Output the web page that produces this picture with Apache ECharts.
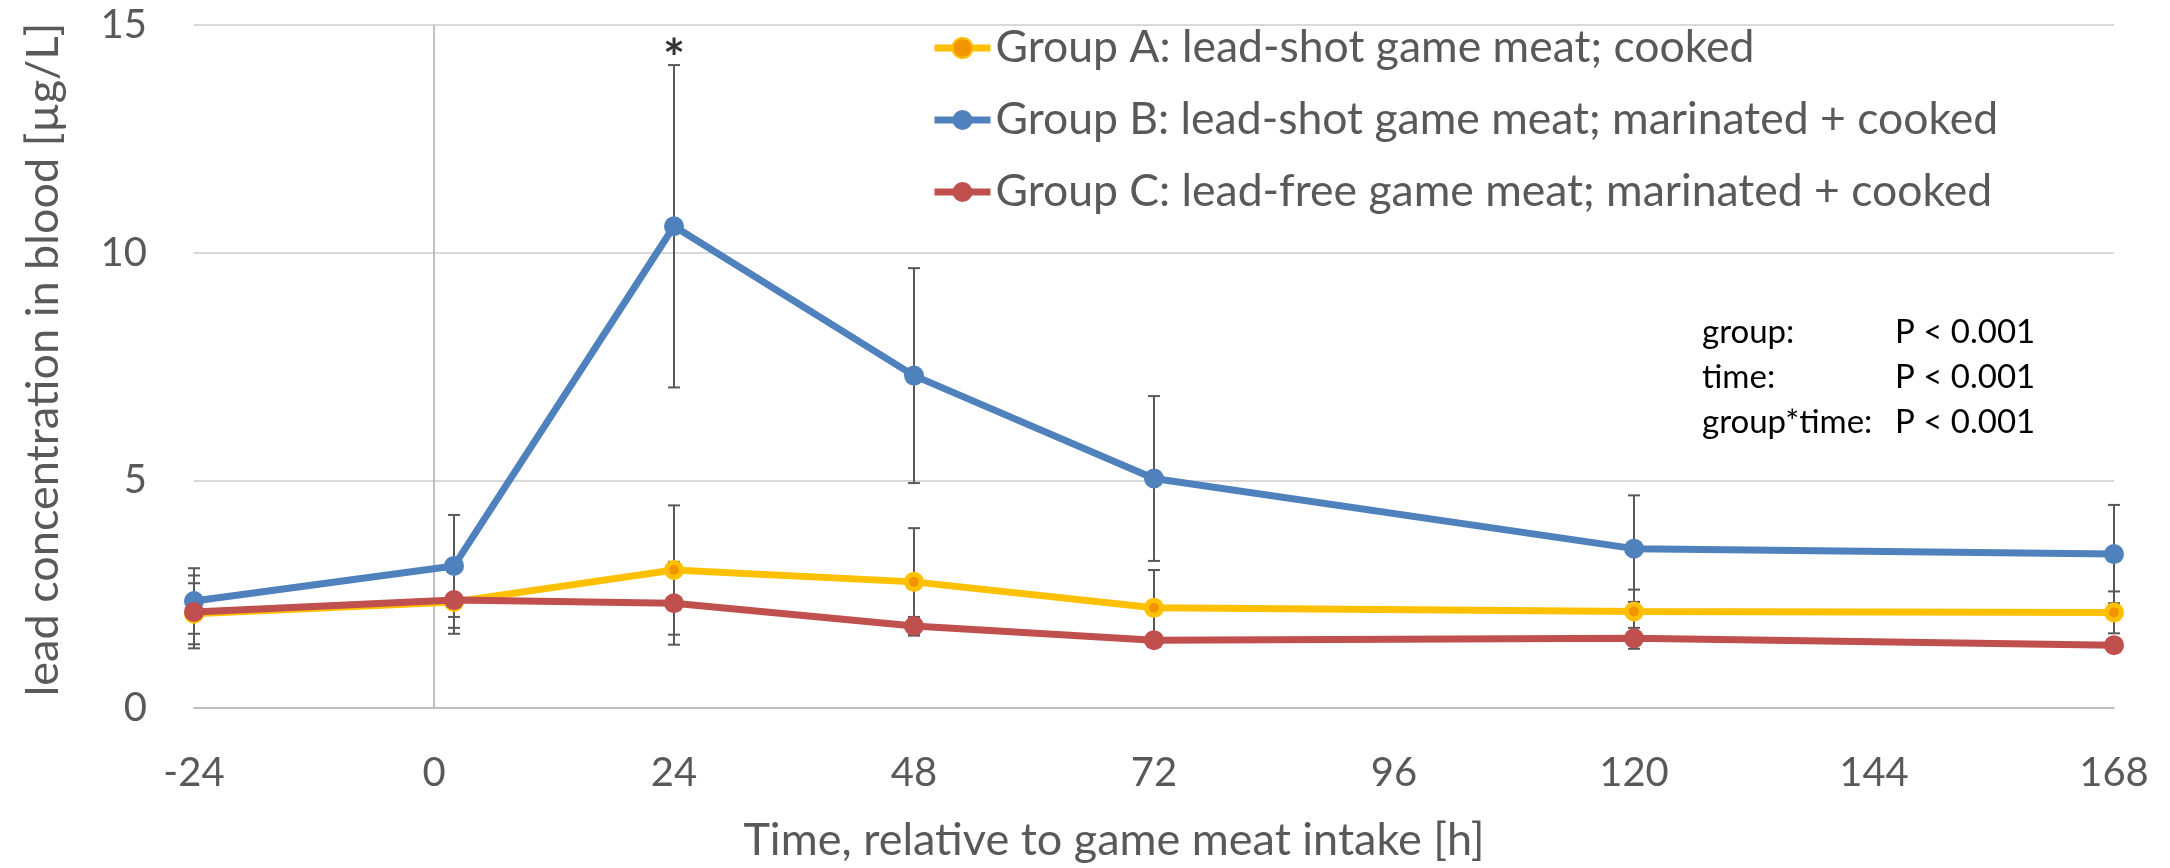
<!DOCTYPE html>
<html>
<head>
<meta charset="utf-8">
<script src="https://cdn.jsdelivr.net/npm/echarts@6/dist/echarts.min.js"></script>
<style>
html,body{margin:0;padding:0;background:#fff;}
#chart{width:2170px;height:868px;}
</style>
</head>
<body>
<div id="chart"></div>
<script>
// ---- data ----
var timesH = [-24, 2, 24, 48, 72, 120, 168];
var xTickLabels = ['-24', '0', '24', '48', '72', '96', '120', '144', '168'];
var yTickLabels = ['0', '5', '10', '15'];

var seriesNames = [
  'Group A: lead-shot game meat; cooked',
  'Group B: lead-shot game meat; marinated + cooked',
  'Group C: lead-free game meat; marinated + cooked'
];
var groupAMean = [2.07, 2.33, 3.03, 2.77, 2.20, 2.12, 2.10];
var groupASD   = [0.67, 0.70, 1.42, 1.18, 0.83, 0.48, 0.46];
var groupBMean = [2.35, 3.12, 10.58, 7.30, 5.04, 3.50, 3.38];
var groupBSD   = [0.72, 1.12, 3.54, 2.36, 1.81, 1.17, 1.08];
var groupCMean = [2.11, 2.37, 2.30, 1.80, 1.49, 1.53, 1.38];
var groupCSD   = [0.80, 0.61, 0.91, 0.20, 0.15, 0.23, 0.15];

var significantIndex = 2; // '*' above group B at 24 h
var statLabels = ['group:', 'time:', 'group*time:'];
var statValues = ['P < 0.001', 'P < 0.001', 'P < 0.001'];

var xAxisTitle = 'Time, relative to game meat intake [h]';
var yAxisTitle = 'lead concentration in blood [µg/L]';

// ---- build ----
var FONT = 'Lato';
var GREY = '#595959';
var colors = ['#FFC000', '#4F81BD', '#C0504D'];

function pts(means) { return timesH.map(function (t, i) { return [t, means[i]]; }); }
function errs(means, sds) {
  return timesH.map(function (t, i) { return [t, means[i] - sds[i], means[i] + sds[i]]; });
}
function errorRender(params, api) {
  var x = api.value(0);
  var lo = api.coord([x, api.value(1)]);
  var hi = api.coord([x, api.value(2)]);
  var hw = 6;
  var st = { stroke: GREY, lineWidth: 2 };
  return {
    type: 'group',
    children: [
      { type: 'line', shape: { x1: hi[0], y1: hi[1], x2: lo[0], y2: lo[1] }, style: st },
      { type: 'line', shape: { x1: hi[0] - hw, y1: hi[1], x2: hi[0] + hw, y2: hi[1] }, style: st },
      { type: 'line', shape: { x1: lo[0] - hw, y1: lo[1], x2: lo[0] + hw, y2: lo[1] }, style: st }
    ]
  };
}
function errSeries(name, data, extra) {
  var s = {
    name: name, type: 'custom', renderItem: errorRender, data: data,
    encode: { x: 0, y: [1, 2] }, z: 1, silent: true
  };
  if (extra) { for (var k in extra) s[k] = extra[k]; }
  return s;
}

var chart = echarts.init(document.getElementById('chart'), null, { renderer: 'canvas' });

var statGraphics = [];
statLabels.forEach(function (lab, i) {
  var y = 332 + i * 45;
  statGraphics.push({ type: 'text', x: 1702, y: y, style: { text: lab, fill: '#000', fontFamily: FONT, fontSize: 33, verticalAlign: 'middle' } });
  statGraphics.push({ type: 'text', x: 1895, y: y, style: { text: statValues[i], fill: '#000', fontFamily: FONT, fontSize: 33, verticalAlign: 'middle' } });
});

var option = {
  backgroundColor: '#fff',
  animation: false,
  textStyle: { fontFamily: FONT },
  grid: { left: 194, right: 56, top: 25, bottom: 159, containLabel: false },
  legend: {
    data: seriesNames,
    orient: 'vertical',
    left: 926,
    top: 19,
    itemWidth: 56,
    itemHeight: 25,
    itemGap: 24,
    lineStyle: { width: 7 },
    textStyle: { fontFamily: FONT, fontSize: 44.5, color: GREY, lineHeight: 48 }
  },
  xAxis: {
    type: 'value', min: -24, max: 168, interval: 24,
    name: xAxisTitle, nameLocation: 'middle', nameGap: 110,
    nameTextStyle: { fontFamily: FONT, fontSize: 45, color: GREY, padding: [0, 80, 0, 0] },
    axisLine: { show: true, onZero: false, lineStyle: { color: '#BFBFBF', width: 2 } },
    axisTick: { show: false },
    splitLine: { show: false },
    axisLabel: {
      fontFamily: FONT, fontSize: 40, color: GREY, margin: 45,
      formatter: function (v) { var i = Math.round((v + 24) / 24); return xTickLabels[i]; }
    }
  },
  yAxis: {
    type: 'value', min: 0, max: 15, interval: 5,
    name: yAxisTitle, nameLocation: 'middle', nameGap: 128,
    nameTextStyle: { fontFamily: FONT, fontSize: 45, color: GREY, padding: [0, 0, 0, 14] },
    axisLine: { show: false },
    axisTick: { show: false },
    splitLine: { show: true, lineStyle: { color: '#D9D9D9', width: 2 } },
    axisLabel: {
      fontFamily: FONT, fontSize: 40, color: GREY, margin: 47,
      formatter: function (v) { return yTickLabels[Math.round(v / 5)]; }
    }
  },
  graphic: statGraphics,
  series: [
    errSeries('errA', errs(groupAMean, groupASD), {
      markLine: {
        silent: true, symbol: 'none', label: { show: false },
        lineStyle: { color: '#BFBFBF', width: 2, type: 'solid' },
        data: [{ xAxis: 0 }], z: 0
      }
    }),
    errSeries('errB', errs(groupBMean, groupBSD)),
    errSeries('errC', errs(groupCMean, groupCSD)),
    {
      name: seriesNames[0], type: 'line', data: pts(groupAMean), z: 3,
      symbol: 'circle', symbolSize: 15,
      lineStyle: { color: colors[0], width: 7 },
      itemStyle: { color: '#F29400', borderColor: colors[0], borderWidth: 5 }
    },
    {
      name: seriesNames[1], type: 'line', data: pts(groupBMean), z: 4,
      symbol: 'circle', symbolSize: 20,
      lineStyle: { color: colors[1], width: 7 },
      itemStyle: { color: colors[1] }
    },
    {
      name: seriesNames[2], type: 'line', data: pts(groupCMean), z: 5,
      symbol: 'circle', symbolSize: 20,
      lineStyle: { color: colors[2], width: 7 },
      itemStyle: { color: colors[2] }
    },
    {
      name: 'significance', type: 'scatter', z: 6, silent: true,
      data: [[timesH[significantIndex], groupBMean[significantIndex] + groupBSD[significantIndex]]],
      symbol: 'circle', symbolSize: 2, itemStyle: { color: 'rgba(0,0,0,0)' },
      label: { show: true, position: 'top', distance: -2, offset: [0, 20], formatter: '*', color: '#000', fontFamily: FONT, fontSize: 52, fontWeight: 'bold' }
    }
  ]
};
chart.setOption(option);
</script>
</body>
</html>
